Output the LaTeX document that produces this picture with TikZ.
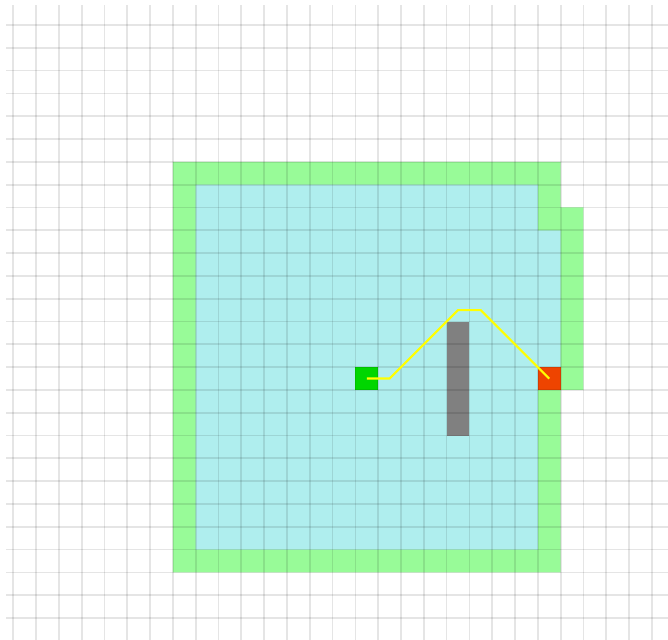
\documentclass[tikz,border=0pt]{standalone}
\usetikzlibrary{positioning}
\definecolor{borderFill}{HTML}{98FB98}
\definecolor{roomFill}{HTML}{AFEEEE}
\definecolor{startFill}{HTML}{00D600}
\definecolor{goalFill}{HTML}{EE4400}
\definecolor{wallFill}{HTML}{808080}
\definecolor{pathLine}{HTML}{FFFF00}

\begin{document}
\begin{tikzpicture}[
    x=0.6cm, y=-0.6cm,
    gridline/.style={draw=black, draw opacity=0.1, line width=1.3pt},
    cellbox/.style={draw=none},
    route/.style={draw=pathLine, line width=1.6pt, line join=miter}
]
  % Frame
  \clip (-0.58,-1.095) rectangle (28.706,26.92);
  \fill[white] (-0.58,-1.095) rectangle (28.706,26.92);

  % Regions
  \fill[cellbox, fill=borderFill] (7,6) -- (24,6) -- (24,8) -- (25,8) -- (25,16)
      -- (24,16) -- (24,24) -- (7,24) -- cycle;
  \fill[cellbox, fill=roomFill] (8,7) -- (23,7) -- (23,9) -- (24,9) -- (24,15)
      -- (23,15) -- (23,23) -- (8,23) -- cycle;

  % Cells
  \fill[cellbox, fill=wallFill] (19,13) rectangle (20,18);
  \fill[cellbox, fill=startFill] (15,15) rectangle (16,16);
  \fill[cellbox, fill=goalFill] (23,15) rectangle (24,16);

  % Grid
  \foreach \i in {0,...,28}
    \draw[gridline] (\i,-0.88) -- (\i,27);
  \foreach \j in {0,...,26}
    \draw[gridline] (-0.32,\j) -- (29,\j);

  % Path from start to goal
  \coordinate (start) at (15.5,15.5);
  \coordinate (bend1) at (16.5,15.5);
  \coordinate (top1) at (19.5,12.5);
  \coordinate (top2) at (20.5,12.5);
  \coordinate (goal) at (23.5,15.5);
  \draw[route] (start) -- (bend1) -- (top1) -- (top2) -- (goal);

\end{tikzpicture}
\end{document}
